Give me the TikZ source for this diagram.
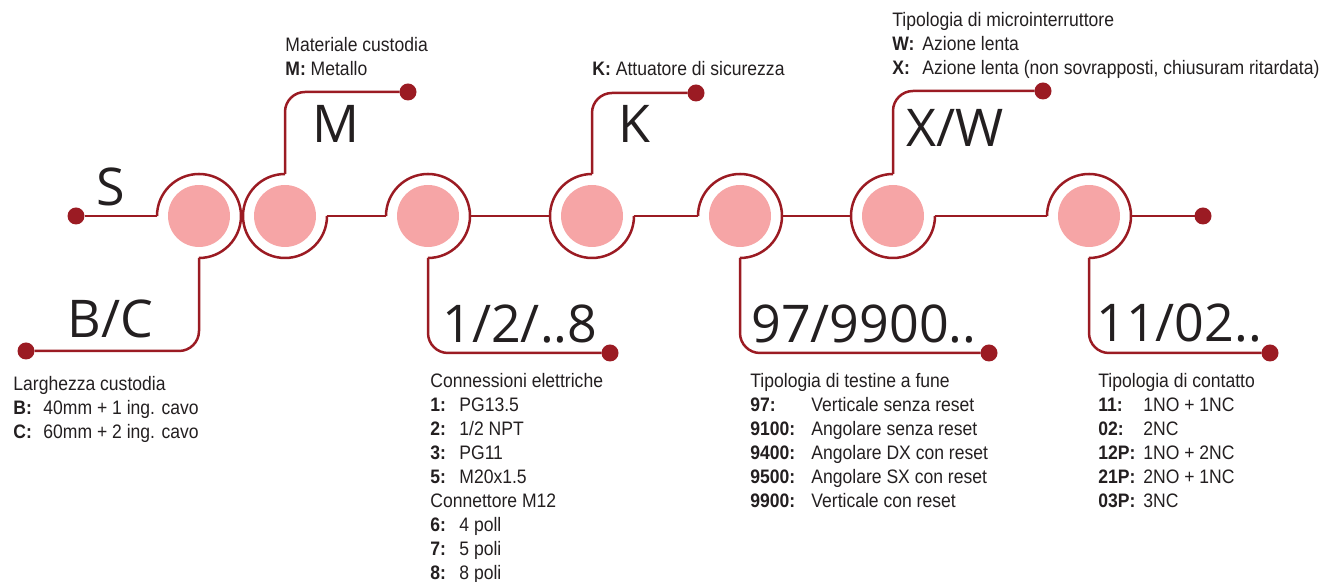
\documentclass[tikz,border=0pt]{standalone}
\usepackage{fontspec}
\setmainfont{Liberation Sans}[FakeStretch=0.9]
\newfontfamily\bigfont{Open Sans}
\definecolor{dred}{RGB}{155,27,35}
\definecolor{pinkc}{RGB}{246,165,166}
\definecolor{txt}{RGB}{35,31,32}
\newlength\keyw
\newcommand\kk[2]{\makebox[\keyw][l]{\bfseries #1}#2}
\begin{document}
\begin{tikzpicture}[x=0.5pt,y=0.5pt,
  line/.style={draw=dred, line width=1.25pt},
  ring/.style={circle, minimum size=42pt, inner sep=0pt, outer sep=0pt},
  pinkdot/.style={circle, fill=pinkc, minimum size=31pt, inner sep=0pt},
  enddot/.style={circle, fill=dred, minimum size=8.5pt, inner sep=0pt, outer sep=0pt},
  code/.style={font=\bigfont\fontsize{26}{30}\selectfont, text=txt, anchor=base west, inner sep=0pt},
  desc/.style={font=\fontsize{9.75}{12}\selectfont, text=txt, anchor=base west, inner sep=0pt}]
\useasboundingbox (0,0) rectangle (1323,582);

% circles
\foreach \n/\x in {1/199,2/285,3/428,4/592,5/740,6/893,7/1089}{
  \node[pinkdot] (p\n) at (\x,366) {};
  \node[ring] (r\n) at (\x,366) {};
}

% end dots
\node[enddot] (dS) at (76,366) {};
\node[enddot] (dBC) at (26,231) {};
\node[enddot] (dM) at (408,490) {};
\node[enddot] (dN) at (610,229) {};
\node[enddot] (dK) at (696,489) {};
\node[enddot] (dT) at (989,229) {};
\node[enddot] (dXW) at (1043,491) {};
\node[enddot] (dR) at (1203,366) {};
\node[enddot] (dC) at (1270,229) {};

% rings
\foreach \n in {1,3,5,7}{
  \draw[line] (r\n.west) arc[start angle=180, end angle=-90, radius=21pt];
}
\foreach \n in {2,4,6}{
  \draw[line] (r\n.north) arc[start angle=90, end angle=360, radius=21pt];
}

% connectors
\draw[line] (dS) -- (r1.west);
\draw[line] (r2.east) -- (r3.west);
\draw[line] (r3.east) -- (r4.west);
\draw[line] (r4.east) -- (r5.west);
\draw[line] (r5.east) -- (r6.west);
\draw[line] (r6.east) -- (r7.west);
\draw[line] (r7.east) -- (dR);
\draw[line, rounded corners=10pt] (r1.south) |- (dBC);
\draw[line, rounded corners=10pt] (r3.south) |- (dN);
\draw[line, rounded corners=10pt] (r5.south) |- (dT);
\draw[line, rounded corners=10pt] (r7.south) |- (dC);
\draw[line, rounded corners=10pt] (r2.north) |- (dM);
\draw[line, rounded corners=10pt] (r4.north) |- (dK);
\draw[line, rounded corners=10pt] (r6.north) |- (dXW);

% code labels
\node[code] (lS) at (96,376) {S};
\node[code] (lM) at (312,439) {M};
\node[code] (lBC) at (67,244) {B/C};
\node[code] (lN) at (442,239) {1/2/..8};
\node[code] (lK) at (618,439) {K};
\node[code] (lT) at (751,239) {97/9900..};
\node[code] (lXW) at (906,435) {X/W};
\node[code] (lC) at (1096,240) {11/02..};

% descriptions
\node[desc] (tL) at (13,191) {\setlength\keyw{15pt}\begin{tabular}[t]{@{}l@{}}
Larghezza custodia\\
\kk{B:}{40mm + 1 ing. cavo}\\
\kk{C:}{60mm + 2 ing. cavo}
\end{tabular}};

\node[desc] (tM) at (285,530) {\begin{tabular}[t]{@{}l@{}}
Materiale custodia\\
\textbf{M:} Metallo
\end{tabular}};

\node[desc] (tK) at (592,506) {\textbf{K:} Attuatore di sicurezza};

\node[desc] (tXW) at (892,555) {\setlength\keyw{15pt}\begin{tabular}[t]{@{}l@{}}
Tipologia di microinterruttore\\
\kk{W:}{Azione lenta}\\
\kk{X:}{Azione lenta (non sovrapposti, chiusuram ritardata)}
\end{tabular}};

\node[desc] (tN) at (430,194) {\setlength\keyw{14.5pt}\begin{tabular}[t]{@{}l@{}}
Connessioni elettriche\\
\kk{1:}{PG13.5}\\
\kk{2:}{1/2 NPT}\\
\kk{3:}{PG11}\\
\kk{5:}{M20x1.5}\\
Connettore M12\\
\kk{6:}{4 poll}\\
\kk{7:}{5 poli}\\
\kk{8:}{8 poli}
\end{tabular}};

\node[desc] (tT) at (750,194) {\setlength\keyw{30.5pt}\begin{tabular}[t]{@{}l@{}}
Tipologia di testine a fune\\
\kk{97:}{Verticale senza reset}\\
\kk{9100:}{Angolare senza reset}\\
\kk{9400:}{Angolare DX con reset}\\
\kk{9500:}{Angolare SX con reset}\\
\kk{9900:}{Verticale con reset}
\end{tabular}};

\node[desc] (tC) at (1098,194) {\setlength\keyw{22.5pt}\begin{tabular}[t]{@{}l@{}}
Tipologia di contatto\\
\kk{11:}{1NO + 1NC}\\
\kk{02:}{2NC}\\
\kk{12P:}{1NO + 2NC}\\
\kk{21P:}{2NO + 1NC}\\
\kk{03P:}{3NC}
\end{tabular}};
\end{tikzpicture}
\end{document}
